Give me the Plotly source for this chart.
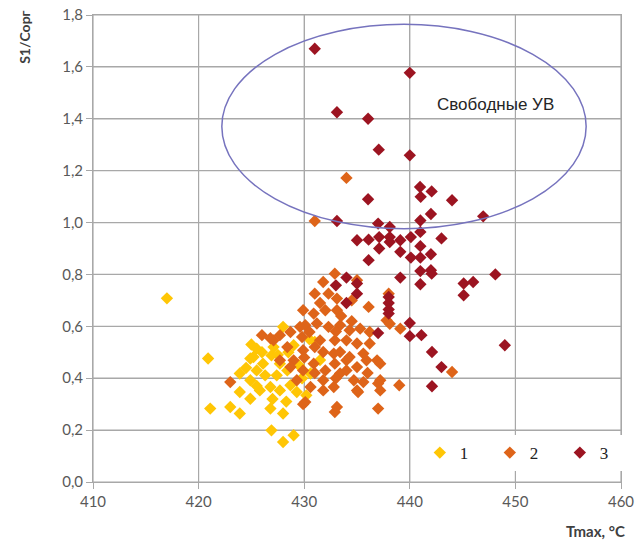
import plotly.graph_objects as go

# Series 1 (yellow)
t1 = [417.0, 420.9, 421.1, 423.0, 423.9, 424.9, 423.9, 424.9, 425.5, 426.1, 426.9, 427.7,
      428.0, 429.0, 431.0, 425.8, 426.8, 427.7, 428.7, 423.9, 424.9, 426.8, 428.0, 426.9,
      428.0, 429.0, 426.3, 427.4, 428.4, 429.3, 430.2, 427.1, 425.5, 425.2, 430.6, 425.0,
      426.0, 427.5, 428.5, 429.5, 424.5, 428.3, 427.0, 425.5, 429.8, 430.5, 431.5]
v1 = [0.708, 0.476, 0.283, 0.289, 0.264, 0.476, 0.418, 0.392, 0.430, 0.456, 0.488, 0.456,
      0.598, 0.527, 0.540, 0.353, 0.366, 0.353, 0.373, 0.347, 0.321, 0.283, 0.264, 0.199,
      0.154, 0.180, 0.411, 0.411, 0.430, 0.347, 0.334, 0.520, 0.514, 0.482, 0.418, 0.530,
      0.500, 0.490, 0.500, 0.450, 0.440, 0.310, 0.320, 0.370, 0.400, 0.550, 0.470]

# Series 2 (orange)
t2 = [432.9, 435.0, 431.8, 431.0, 432.3, 433.1, 436.1, 429.9, 430.9, 432.0, 433.1, 437.8,
      430.1, 431.2, 432.3, 433.4, 434.3, 435.3, 436.2, 428.7, 427.7, 429.8, 431.5, 432.9,
      434.0, 435.0, 429.9, 431.8, 433.4, 434.3, 435.6, 436.9, 428.4, 427.7, 430.9, 432.9,
      426.0, 427.1, 423.0, 429.6, 430.5, 429.0, 429.9, 429.3, 430.6, 431.8, 432.8, 433.4,
      434.7, 434.0, 435.0, 435.9, 437.2, 437.2, 437.2, 435.1, 435.6, 430.1, 432.9, 437.0,
      431.8, 432.8, 428.7, 436.2, 439.0, 444.0, 437.0, 433.1, 438.0, 439.1, 438.1, 435.0,
      429.9, 434.0, 431.0, 426.8, 431.0, 432.0, 433.0, 434.0, 436.0, 430.0, 431.0, 433.0,
      434.5, 433.5, 431.5, 434.5]
v2 = [0.803, 0.778, 0.771, 0.726, 0.726, 0.707, 0.675, 0.662, 0.649, 0.662, 0.662, 0.623,
      0.604, 0.611, 0.598, 0.604, 0.585, 0.591, 0.578, 0.578, 0.566, 0.559, 0.546, 0.546,
      0.546, 0.534, 0.508, 0.501, 0.501, 0.482, 0.495, 0.469, 0.520, 0.469, 0.456, 0.456,
      0.566, 0.546, 0.385, 0.598, 0.578, 0.469, 0.430, 0.392, 0.366, 0.392, 0.366, 0.418,
      0.392, 0.469, 0.443, 0.469, 0.456, 0.392, 0.353, 0.347, 0.385, 0.308, 0.270, 0.283,
      0.353, 0.495, 0.443, 0.534, 0.373, 0.424, 0.380, 0.289, 0.726, 0.591, 0.610, 0.353,
      0.300, 1.172, 1.006, 0.554, 0.420, 0.430, 0.400, 0.430, 0.420, 0.480, 0.520, 0.580,
      0.620, 0.640, 0.690, 0.700]

# Series 3 (dark red)
t3 = [431.0, 440.0, 433.1, 436.05, 437.06, 440.0, 436.05, 440.97, 442.07, 441.03, 444.0,
      433.1, 446.95, 442.0, 441.0, 437.0, 438.1, 443.0, 435.0, 436.1, 437.1, 437.1, 438.1,
      438.1, 439.1, 439.1, 440.1, 440.1, 441.0, 441.0, 442.0, 441.0, 436.1, 441.0, 442.0,
      439.1, 441.0, 448.1, 445.1, 446.0, 445.1, 434.0, 435.0, 435.0, 438.0, 433.0, 434.0,
      438.0, 438.0, 438.0, 442.07, 437.0, 440.0, 440.0, 441.1, 442.1, 443.0, 449.0, 442.1]
v3 = [1.670, 1.577, 1.425, 1.400, 1.281, 1.259, 1.090, 1.137, 1.120, 1.099, 1.086,
      1.006, 1.024, 1.033, 1.008, 0.996, 0.983, 0.939, 0.932, 0.934, 0.944, 0.900, 0.944,
      0.925, 0.932, 0.887, 0.944, 0.865, 0.964, 0.909, 0.878, 0.865, 0.855, 0.813, 0.816,
      0.788, 0.762, 0.800, 0.765, 0.771, 0.720, 0.788, 0.765, 0.726, 0.713, 0.758, 0.690,
      0.690, 0.665, 0.649, 0.803, 0.574, 0.613, 0.562, 0.566, 0.501, 0.443, 0.527, 0.369]

names = ["1", "2", "3"]
colors = ["#FFC605", "#DE6419", "#9C1421"]
x_ticks = [410, 420, 430, 440, 450, 460]
y_ticks = [0.0, 0.2, 0.4, 0.6, 0.8, 1.0, 1.2, 1.4, 1.6, 1.8]

fig = go.Figure()
for t, v, n, c in zip([t1, t2, t3], [v1, v2, v3], names, colors):
    fig.add_trace(go.Scatter(x=t, y=v, mode="markers", name=n,
                             marker=dict(symbol="diamond", size=9.5, color=c,
                                         line=dict(width=0))))

grid = "#A8A8A8"
tickfont = dict(family="Lato, Open Sans, sans-serif", size=15, color="#595959")

fig.update_layout(
    width=639, height=540,
    margin=dict(l=93, r=18, t=15, b=58, autoexpand=False),
    paper_bgcolor="white", plot_bgcolor="white",
    separators=", ",
    showlegend=True,
    legend=dict(orientation="h", x=0.619, y=0.062, xanchor="left", yanchor="middle",
                bgcolor="white", borderwidth=0,
                font=dict(family="Liberation Serif", size=17, color="#222"),
                entrywidth=25, entrywidthmode="pixels", itemclick=False),
    xaxis=dict(range=[410, 460], tickvals=x_ticks, showgrid=True, gridcolor=grid,
               gridwidth=1, showline=True, linecolor=grid, linewidth=1, mirror=True,
               ticks="outside", ticklen=6, tickcolor=grid, tickwidth=1, tickfont=tickfont,
               ticklabeloverflow="allow",
               zeroline=False, fixedrange=True, automargin=False),
    yaxis=dict(range=[0, 1.8], tickvals=y_ticks, tickformat=".1f", showgrid=True,
               gridcolor=grid, gridwidth=1, showline=True, linecolor=grid, linewidth=1,
               mirror=True, ticks="outside", ticklen=6, tickcolor=grid, tickwidth=1,
               tickfont=tickfont, ticklabeloverflow="allow",
               zeroline=False, fixedrange=True, automargin=False),
)

# grid drawn also as anti-aliased shapes at the tick values (below the markers)
for xv in x_ticks:
    fig.add_shape(type="line", xref="x", yref="paper", x0=xv, x1=xv, y0=0, y1=1,
                  line=dict(color=grid, width=1.2), layer="below")
for yv in y_ticks:
    fig.add_shape(type="line", xref="paper", yref="y", x0=0, x1=1, y0=yv, y1=yv,
                  line=dict(color=grid, width=1.2), layer="below")

fig.add_shape(type="circle", xref="x", yref="y", x0=422.2, x1=456.7, y0=0.976, y1=1.764,
              line=dict(color="#7673BE", width=1.5), layer="above")

fig.add_annotation(x=448.1, y=1.456, xref="x", yref="y", text="Свободные УВ",
                   showarrow=False, font=dict(family="Liberation Sans", size=17, color="#262626"))

fig.add_annotation(x=-0.129, y=0.953, xref="paper", yref="paper", text="<b>S1/Сорг</b>",
                   textangle=-90, showarrow=False, xanchor="center", yanchor="middle",
                   font=dict(family="Lato, Open Sans, sans-serif", size=14, color="#404040"))

fig.add_annotation(x=1.012, y=-0.082, xref="paper", yref="paper", text="<b>Tmax, °C</b>",
                   showarrow=False, xanchor="right", yanchor="top",
                   font=dict(family="Lato, Open Sans, sans-serif", size=15, color="#404040"))

# remove the browser's default 8px body margin so the figure sits at the page origin
fig.write_html("out.html", config={"displayModeBar": False},
               post_script="document.body.style.margin='0';document.body.style.overflow='hidden';")
